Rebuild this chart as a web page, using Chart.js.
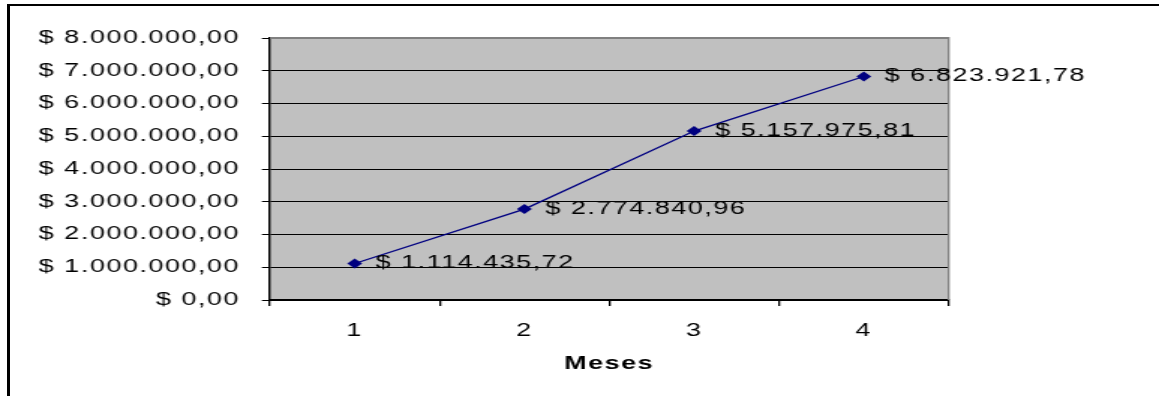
<!DOCTYPE html>
<html><head><meta charset="utf-8">
<script src="https://cdn.jsdelivr.net/npm/chart.js@4/dist/chart.umd.min.js"></script>
<style>
html,body{margin:0;padding:0;background:#fff;overflow:hidden;width:1159px;height:396px;}
#frame{position:absolute;left:7px;top:4px;width:1300px;height:500px;border-left:3px solid #000;border-top:2px solid #000;}
#wrap{position:absolute;left:0;top:0;width:773px;height:396px;transform:scaleX(1.49935);transform-origin:0 0;}
</style></head><body>
<div id="frame"></div>
<div id="wrap"><canvas id="c"></canvas></div>
<script>
const months = ['1', '2', '3', '4'];
const revenue = [1114435.72, 2774840.96, 5157975.81, 6823921.78];
const yTickValues = [0, 1000000, 2000000, 3000000, 4000000, 5000000, 6000000, 7000000, 8000000];
const xTitle = 'Meses';

const FAMILY = '"Liberation Sans", Arial, sans-serif';
function fmt(v) {
  const parts = Number(v).toFixed(2).split('.');
  const intPart = parts[0].replace(/\B(?=(\d{3})+(?!\d))/g, '.');
  return '$ ' + intPart + ',' + parts[1];
}

const plotDecor = {
  id: 'plotDecor',
  beforeDraw(chart) {
    const { ctx, chartArea: a } = chart;
    ctx.letterSpacing = '1px';
    ctx.save();
    ctx.fillStyle = '#C0C0C0';
    ctx.fillRect(a.left, a.top, a.right - a.left, a.bottom - a.top);
    ctx.restore();
  },
  beforeDatasetsDraw(chart) {
    const { ctx, chartArea: a } = chart;
    ctx.save();
    ctx.strokeStyle = '#808080';
    ctx.lineWidth = 2;
    ctx.beginPath();
    ctx.moveTo(a.left, a.top);
    ctx.lineTo(a.right, a.top);
    ctx.stroke();
    ctx.lineWidth = 1.35;
    ctx.beginPath();
    ctx.moveTo(a.right, a.top - 1);
    ctx.lineTo(a.right, a.bottom);
    ctx.stroke();
    ctx.restore();
  },
  afterDatasetsDraw(chart) {
    const { ctx } = chart;
    const meta = chart.getDatasetMeta(0);
    ctx.save();
    ctx.letterSpacing = '1px';
    ctx.font = '18px ' + FAMILY;
    ctx.fillStyle = '#000';
    ctx.textAlign = 'left';
    ctx.textBaseline = 'middle';
    meta.data.forEach((pt, i) => {
      ctx.fillText(fmt(revenue[i]), pt.x + 14, pt.y);
    });
    ctx.restore();
  }
};

new Chart(document.getElementById('c'), {
  type: 'line',
  data: {
    labels: months,
    datasets: [{
      data: revenue,
      borderColor: '#000080',
      borderWidth: 1.3,
      pointStyle: 'rectRot',
      pointRadius: 5,
      pointBackgroundColor: '#000080',
      pointBorderColor: '#000080',
      pointBorderWidth: 0,
      tension: 0,
      clip: false
    }]
  },
  options: {
    responsive: true,
    maintainAspectRatio: false,
    animation: false,
    layout: { padding: { left: 0, right: 140.3, top: 38, bottom: 0 } },
    plugins: { legend: { display: false }, tooltip: { enabled: false } },
    scales: {
      y: {
        min: 0, max: 8000000,
        afterBuildTicks(s) { s.ticks = yTickValues.map(v => ({ value: v })); },
        ticks: { callback: v => fmt(v), color: '#000', font: { family: FAMILY, size: 18 }, padding: 14.7 },
        grid: { color: '#000', lineWidth: 1, tickLength: 5.33, tickColor: '#000', drawTicks: true },
        border: { color: '#000', width: 1.4 },
        afterFit(s) { s.width = 180; }
      },
      x: {
        offset: true,
        ticks: { color: '#000', font: { family: FAMILY, size: 18 }, padding: 14 },
        grid: { offset: true, drawOnChartArea: false, tickLength: 6, color: '#000', tickColor: '#000', lineWidth: 1.3 },
        border: { color: '#000', width: 2 },
        title: { display: true, text: xTitle, color: '#000', font: { family: FAMILY, size: 18, weight: 'bold' }, padding: { top: 0, bottom: 21 } },
        afterFit(s) { s.height = 96; }
      }
    }
  },
  plugins: [plotDecor]
});
</script>
</body></html>
